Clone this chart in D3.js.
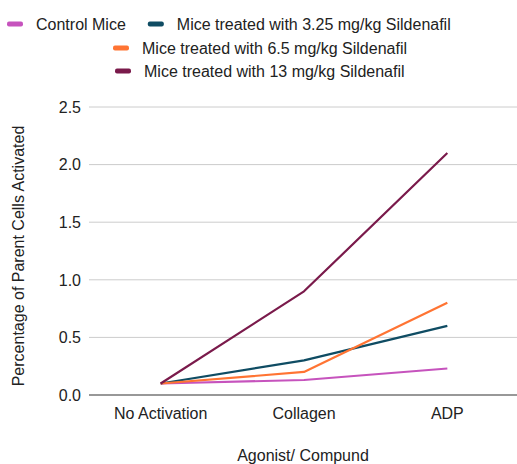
<!DOCTYPE html>
<html>
<head>
<meta charset="utf-8">
<script src="https://cdn.jsdelivr.net/npm/d3@7"></script>
<style>
  body { margin: 0; background: #fff; }
  text { font-family: "Liberation Sans", Arial, sans-serif; fill: #222; }
</style>
</head>
<body>
<script>
// chart data
const categories = ["No Activation", "Collagen", "ADP"];
const seriesNames = [
  "Control Mice",
  "Mice treated with 3.25 mg/kg Sildenafil",
  "Mice treated with 6.5 mg/kg Sildenafil",
  "Mice treated with 13 mg/kg Sildenafil"
];
const controlValues = [0.1, 0.13, 0.23];
const dose325Values = [0.1, 0.3, 0.6];
const dose65Values = [0.1, 0.2, 0.8];
const dose13Values = [0.1, 0.9, 2.1];
const yTicks = [0, 0.5, 1.0, 1.5, 2.0, 2.5];
const colors = ["#c653bd", "#0f4c63", "#ff7433", "#7a1a4b"];

const W = 517, H = 464;
const margin = {left: 89, right: -2, top: 107, bottom: 69};

const series = [controlValues, dose325Values, dose65Values, dose13Values].map((vals, i) => ({
  name: seriesNames[i],
  color: colors[i],
  values: vals.map((v, j) => ({cat: categories[j], v: v}))
}));

const svg = d3.select("body").append("svg")
  .attr("width", W)
  .attr("height", H);

const x = d3.scalePoint()
  .domain(categories)
  .range([margin.left, W - margin.right])
  .padding(0.5);

const y = d3.scaleLinear()
  .domain([0, 2.5])
  .range([H - margin.bottom, margin.top]);

// gridlines
svg.append("g")
  .selectAll("line")
  .data(yTicks.slice(1))
  .enter().append("line")
    .attr("x1", margin.left)
    .attr("x2", W)
    .attr("y1", d => y(d))
    .attr("y2", d => y(d))
    .attr("stroke", "#cccccc")
    .attr("stroke-width", 1);

// y tick labels
svg.append("g")
  .selectAll("text")
  .data(yTicks)
  .enter().append("text")
    .attr("x", 81)
    .attr("y", d => y(d))
    .attr("dy", "0.36em")
    .attr("text-anchor", "end")
    .style("font-size", "16px")
    .text(d => d.toFixed(1));

// x tick labels
svg.append("g")
  .selectAll("text")
  .data(categories)
  .enter().append("text")
    .attr("x", d => x(d))
    .attr("y", y(0) + 18)
    .attr("dy", "0.36em")
    .attr("text-anchor", "middle")
    .style("font-size", "16px")
    .text(d => d);

// lines
const line = d3.line()
  .x(d => x(d.cat))
  .y(d => y(d.v));

svg.append("g")
  .selectAll("path")
  .data(series)
  .enter().append("path")
    .attr("d", d => line(d.values))
    .attr("fill", "none")
    .attr("stroke", d => d.color)
    .attr("stroke-width", 2.2)
    .attr("stroke-linejoin", "round");

// baseline
svg.append("line")
  .attr("x1", margin.left)
  .attr("x2", W)
  .attr("y1", y(0))
  .attr("y2", y(0))
  .attr("stroke", "#333")
  .attr("stroke-width", 1.2);

// axis titles
svg.append("text")
  .attr("x", 303)
  .attr("y", 455)
  .attr("dy", "0.36em")
  .attr("text-anchor", "middle")
  .style("font-size", "16px")
  .text("Agonist/ Compund");

svg.append("text")
  .attr("transform", "translate(18.5," + 256 + ")rotate(-90)")
  .attr("dy", "0.36em")
  .attr("text-anchor", "middle")
  .style("font-size", "16px")
  .text("Percentage of Parent Cells Activated");

// legend: first row holds two entries, the other two are on their own rows
const legendRows = [[0, 1], [2], [3]];
const rowY = [24, 48, 71];
const rowStart = [7, 113, 115];
const legend = svg.append("g");
legendRows.forEach((row, r) => {
  let cx = rowStart[r];
  row.forEach(i => {
    const g = legend.append("g").attr("transform", "translate(" + cx + "," + rowY[r] + ")");
    g.append("rect")
      .attr("x", 0).attr("y", -2.5)
      .attr("width", 16).attr("height", 5)
      .attr("rx", 2)
      .attr("fill", colors[i]);
    const t = g.append("text")
      .attr("x", 29)
      .attr("dy", "0.36em")
      .style("font-size", "16px")
      .text(seriesNames[i]);
    cx += 29 + t.node().getComputedTextLength() + 22;
  });
});
</script>
</body>
</html>
